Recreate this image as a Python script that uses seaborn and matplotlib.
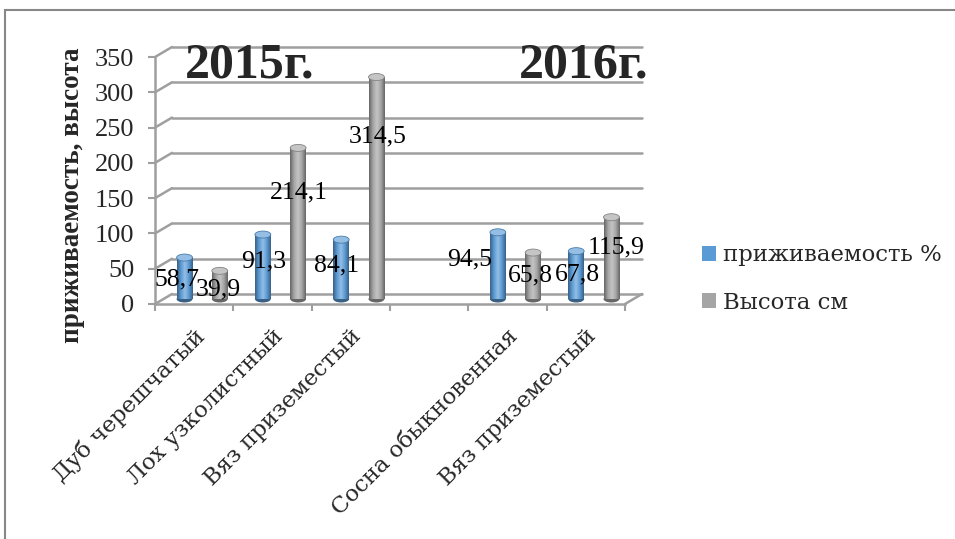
import numpy as np
import pandas as pd
import matplotlib.pyplot as plt
import seaborn as sns
from matplotlib.transforms import ScaledTranslation, IdentityTransform
from matplotlib.patches import Rectangle, Ellipse
from matplotlib.lines import Line2D
from matplotlib.colors import LinearSegmentedColormap, to_rgb

# данные
species = ["Дуб черешчатый", "Лох узколистный", "Вяз приземестый",
           "Сосна обыкновенная", "Вяз приземестый"]
slots = ["s0", "s1", "s2", "s4", "s5"]
slot_order = ["s0", "s1", "s2", "s3", "s4", "s5"]
survival = [58.7, 91.3, 84.1, 94.5, 67.8]
height_cm = [39.9, 214.1, 314.5, 65.8, 115.9]
series_names = ["приживаемость %", "Высота см"]
years = ["2015г.", "2016г."]
y_ticks = [0, 50, 100, 150, 200, 250, 300, 350]

df = pd.DataFrame({
    "slot": slots * 2,
    "value": survival + height_cm,
    "series": [series_names[0]] * len(slots) + [series_names[1]] * len(slots),
})

# горизонтальный сдвиг подписей (px), как их расставил Excel
label_dx = {series_names[0]: [-8, 1, -5, -28, 1],
            series_names[1]: [-1, 1, 1, -3, 5]}

sns.set_style("white")
plt.rcParams["font.family"] = ["Liberation Serif", "DejaVu Serif"]

W, H = 955, 539
fig = plt.figure(figsize=(W / 100, H / 100), dpi=100)
ax = fig.add_axes([155 / W, (H - 304) / H, 470 / W, 247 / H])

colors = ["#5b9bd5", "#a5a5a5"]
sns.barplot(data=df, x="slot", y="value", hue="series", order=slot_order,
            hue_order=series_names, palette=colors, saturation=1,
            width=0.9, gap=0.55, legend=False, ax=ax)

ax.set_xlim(-0.5, 5.5)
ax.set_ylim(0, 350)

grid_c = "#9f9f9f"
depth = ScaledTranslation(8 / 100, 5 / 100, fig.dpi_scale_trans)
wall = ScaledTranslation(17 / 100, 10 / 100, fig.dpi_scale_trans)
bar_tr = ax.transData + depth

# цилиндры с градиентом
grad = np.linspace(0, 1, 64)[None, :]
bars = [p for p in ax.patches if np.isfinite(p.get_height()) and p.get_height() > 0]
bars.sort(key=lambda p: (p.get_facecolor()[0] > 0.5, p.get_x()))
dx_all = label_dx[series_names[0]] + label_dx[series_names[1]]
for p, dx in zip(bars, dx_all):
    h = p.get_height()
    base = np.array(to_rgb(p.get_facecolor()))
    dark = base * 0.62
    light = base + (1 - base) * 0.35
    cmap = LinearSegmentedColormap.from_list("cyl", [dark, base, light, base, dark])
    x0, w = p.get_x(), p.get_width()
    p.set_visible(False)
    im = ax.imshow(grad, cmap=cmap, extent=(x0, x0 + w, 0, h), aspect="auto",
                   zorder=2, interpolation="bilinear")
    im.set_transform(bar_tr)
    cap_h = 7 * 350 / 247
    ax.add_patch(Ellipse((x0 + w / 2, 0), w, cap_h, facecolor=dark, edgecolor="none",
                         transform=bar_tr, zorder=1.9))
    ax.add_patch(Ellipse((x0 + w / 2, h), w, cap_h, facecolor=light, edgecolor=base * 0.8,
                         lw=0.6, transform=bar_tr, zorder=2.1))
    lab_tr = ax.transData + ScaledTranslation((8 + dx) / 100, 0, fig.dpi_scale_trans)
    # подпись ниже вершины цилиндра
    ax.text(x0 + w / 2, h * 0.79 - 11.6, f"{h:.1f}".replace(".", ","), transform=lab_tr,
            ha="center", va="center", fontsize=18.5, color="black", zorder=3)

ax.set_xlim(-0.5, 5.5)
ax.set_ylim(0, 350)

# сетка задней стенки
ytr = ax.get_yaxis_transform()
for v in y_ticks:
    ax.plot([0, 1], [v, v], transform=ytr + wall, color=grid_c, lw=1.8,
            zorder=0.5, clip_on=False)
    p0 = ytr.transform((0, v))
    p1 = (ytr + wall).transform((0, v))
    fig.add_artist(Line2D([p0[0], p1[0]], [p0[1], p1[1]], transform=IdentityTransform(),
                          color=grid_c, lw=1.8))
q0 = ytr.transform((1, 0))
q1 = (ytr + wall).transform((1, 0))
fig.add_artist(Line2D([q0[0], q1[0]], [q0[1], q1[1]], transform=IdentityTransform(),
                      color=grid_c, lw=1.8))

# оси
for s in ["top", "right"]:
    ax.spines[s].set_visible(False)
for s in ["left", "bottom"]:
    ax.spines[s].set_color(grid_c)
    ax.spines[s].set_linewidth(1.8)

ax.set_yticks(y_ticks)
ax.tick_params(axis="y", length=5, width=1.5, color=grid_c, pad=10, labelsize=19,
               left=True)
ax.set_xticks(range(len(slot_order)))
labels = []
it = iter(species)
for s in slot_order:
    labels.append(next(it) if s in slots else "")
ax.set_xticklabels(labels, rotation=45, ha="right", va="center",
                   rotation_mode="anchor", fontsize=16.4, family="DejaVu Serif")
ax.tick_params(axis="x", which="major", length=0, pad=21)
ax.set_xticks(np.arange(-0.5, 6, 1), minor=True)
ax.tick_params(axis="x", which="minor", length=5, width=1.5, color=grid_c, bottom=True)
shift = ScaledTranslation(7 / 100, 0, fig.dpi_scale_trans)
for lab in ax.get_xticklabels():
    lab.set_transform(lab.get_transform() + shift)
ax.set_xlabel("")
ax.set_ylabel("приживаемость, высота", fontsize=19.5, fontweight="bold")
ax.yaxis.set_label_coords(-0.15, 0.44)

# годы
fig.text(185 / W, 1 - 66 / H, years[0], fontsize=36, fontweight="bold",
         ha="left", va="center")
fig.text(648 / W, 1 - 66 / H, years[1], fontsize=36, fontweight="bold",
         ha="right", va="center")

# легенда
handles = [Rectangle((0, 0), 1, 1, facecolor=c, edgecolor="none") for c in colors]
fig.legend(handles, series_names, loc="center left",
           bbox_to_anchor=(702 / W, 1 - 279 / H), frameon=False,
           borderpad=0, borderaxespad=0,
           prop={"family": "DejaVu Serif", "size": 16.4},
           handlelength=0.62, handleheight=0.62, handletextpad=0.3, labelspacing=1.1)

# рамка
fig.add_artist(Rectangle((5 / W, -0.05), 1.0, (H - 10) / H + 0.05,
                         transform=fig.transFigure, fill=False,
                         edgecolor="#878787", lw=1.5))

fig.savefig("out.png", dpi=100)
